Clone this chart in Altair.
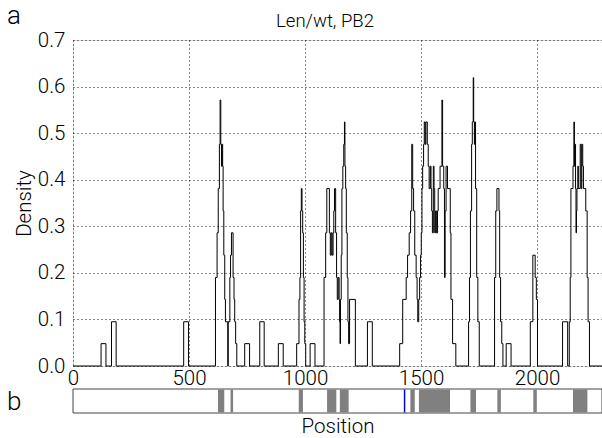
import altair as alt
import pandas as pd

# Step breakpoints of the density trace (value holds until the next position)
step_pos = [
    0, 121, 142, 166, 186, 477, 498,
    614, 621, 626, 631, 634, 637, 640, 642, 645, 647, 650, 654, 657, 667, 669,
    676, 679, 683, 690, 694, 697, 701, 706,
    740, 761, 805, 824, 885, 906,
    964, 974, 978, 981, 984, 987, 990, 993, 996, 999, 1003,
    1022, 1043,
    1082, 1089, 1094, 1105, 1109, 1113, 1117, 1121, 1124, 1127, 1132, 1136, 1139,
    1143, 1147, 1149, 1151, 1153, 1156, 1159, 1163, 1167, 1170, 1172, 1175, 1178,
    1182, 1185, 1188, 1192, 1217,
    1269, 1290,
    1408, 1421, 1436, 1442, 1449, 1455, 1460, 1464, 1468, 1473, 1479, 1483, 1486,
    1490, 1494, 1498, 1501, 1504, 1507, 1511, 1514, 1518, 1521, 1527, 1531, 1535,
    1540, 1543, 1546, 1549, 1553, 1556, 1559, 1563, 1566, 1571, 1574, 1582, 1590,
    1593, 1598, 1601, 1604, 1608, 1614, 1626, 1629, 1636, 1650,
    1705, 1709, 1713, 1718, 1721, 1725, 1727, 1730, 1732, 1735, 1740, 1745, 1751,
    1817, 1822, 1827, 1836, 1839, 1843, 1848, 1853,
    1867, 1888,
    1971, 1982, 1992, 1997, 2002,
    2110, 2132,
    2139, 2143, 2146, 2155, 2159, 2161, 2163, 2166, 2168, 2170, 2172, 2176, 2178,
    2186, 2190, 2193, 2197, 2200, 2210, 2216, 2220, 2226, 2280,
]
step_density = [
    0, 0.048, 0, 0.095, 0, 0.095, 0,
    0.19, 0.286, 0.381, 0.476, 0.571, 0.476, 0.429, 0.476, 0.429, 0.333, 0.238, 0.143, 0.095, 0, 0.095,
    0.19, 0.238, 0.286, 0.19, 0.143, 0.095, 0.048, 0,
    0.048, 0, 0.095, 0, 0.048, 0,
    0.048, 0.143, 0.19, 0.333, 0.381, 0.333, 0.286, 0.19, 0.095, 0.048, 0,
    0.048, 0,
    0.19, 0.286, 0.381, 0.286, 0.238, 0.286, 0.238, 0.286, 0.333, 0.381, 0.286, 0.19, 0.143,
    0.19, 0.143, 0.095, 0.048, 0.143, 0.238, 0.381, 0.429, 0.476, 0.524, 0.429, 0.381, 0.286,
    0.19, 0.095, 0.048, 0.143, 0,
    0.095, 0,
    0.048, 0.143, 0.19, 0.238, 0.286, 0.333, 0.476, 0.381, 0.333, 0.238, 0.19, 0.143, 0.095,
    0.143, 0.19, 0.238, 0.286, 0.381, 0.429, 0.476, 0.524, 0.476, 0.524, 0.476, 0.429, 0.381,
    0.429, 0.381, 0.333, 0.286, 0.429, 0.381, 0.286, 0.333, 0.286, 0.333, 0.381, 0.429, 0.571,
    0.429, 0.381, 0.19, 0.333, 0.429, 0.381, 0.286, 0.143, 0.048, 0,
    0.095, 0.19, 0.333, 0.476, 0.524, 0.619, 0.524, 0.476, 0.524, 0.381, 0.19, 0.095, 0,
    0.19, 0.333, 0.381, 0.333, 0.19, 0.095, 0.048, 0,
    0.048, 0,
    0.095, 0.238, 0.19, 0.143, 0,
    0.095, 0,
    0.095, 0.19, 0.381, 0.429, 0.524, 0.429, 0.476, 0.381, 0.286, 0.333, 0.381, 0.429, 0.381,
    0.476, 0.381, 0.476, 0.429, 0.381, 0.333, 0.19, 0.095, 0, 0,
]

# Panel b: highlighted regions and marker
region_start = [625, 679, 973, 1095, 1150, 1454, 1491, 1713, 1829, 1984, 2155]
region_end = [652, 690, 991, 1135, 1188, 1473, 1625, 1737, 1844, 1999, 2217]
marker_pos = [1429]

x_ticks = [0, 500, 1000, 1500, 2000]
y_ticks = [0.0, 0.1, 0.2, 0.3, 0.4, 0.5, 0.6, 0.7]
x_domain = [0, 2280]

title_text = "Len/wt, PB2"
panel_names = ["a", "b"]

FONT = "Roboto"
FS = 20.5

line_df = pd.DataFrame({"pos": step_pos, "density": step_density})
reg_df = pd.DataFrame({"pos": region_start, "end": region_end})
mark_df = pd.DataFrame({"pos": marker_pos})

xscale = alt.Scale(domain=x_domain, nice=False, zero=False)
yscale = alt.Scale(domain=[0, 0.7], nice=False)

xaxis = alt.Axis(values=x_ticks, format="d", grid=True, gridColor="black", gridDash=[1, 3],
                 gridOpacity=0.9, domain=False, ticks=False, tickSize=0,
                 labelPadding=2, labelFontSize=FS, labelFont=FONT,
                 labelFontWeight=300, labelColor="black", labelFlush=False,
                 titleFontSize=FS, titleFont=FONT, titleFontWeight=300,
                 titleColor="black", titlePadding=28)


def xenc(field):
    return alt.X(field, scale=xscale, title="Position", axis=xaxis)


line = alt.Chart(line_df).mark_line(
    interpolate="step-after", color="black", strokeWidth=1
).encode(
    x=xenc("pos:Q"),
    y=alt.Y("density:Q", scale=yscale, title="Density",
            axis=alt.Axis(values=y_ticks, format=".1f", grid=True, gridColor="black",
                          gridDash=[1, 3], gridOpacity=0.9, domain=False, ticks=False,
                          tickSize=0, labelPadding=8, labelFontSize=FS, labelFont=FONT,
                          labelFontWeight=300, labelColor="black", labelFlush=False,
                          titleFontSize=FS, titleFont=FONT, titleFontWeight=300,
                          titleColor="black", titlePadding=3)),
)

strip_frame = alt.Chart(pd.DataFrame({"pos": [x_domain[0]], "end": [x_domain[1]]})).mark_rect(
    fill="white", stroke="#444444", strokeWidth=1
).encode(
    x=xenc("pos:Q"),
    x2="end:Q",
    y=alt.value(349), y2=alt.value(373),
)

strip_regions = alt.Chart(reg_df).mark_rect(color="#808080").encode(
    x=xenc("pos:Q"),
    x2="end:Q",
    y=alt.value(349.5), y2=alt.value(372.5),
)

strip_marker = alt.Chart(mark_df).mark_rule(color="#0000ff", strokeWidth=1.5).encode(
    x=xenc("pos:Q"),
    y=alt.value(349.5), y2=alt.value(372.5),
)

panel_labels = alt.Chart(pd.DataFrame({"t": panel_names, "py": [-37, 349]})).mark_text(
    font=FONT, fontSize=26, fontWeight=300, color="black", align="left", baseline="top"
).encode(
    text="t:N",
    x=alt.value(-66),
    y=alt.Y("py:Q", scale=None),
)

title_mark = alt.Chart(pd.DataFrame({"t": [title_text]})).mark_text(
    font=FONT, fontSize=18.5, fontWeight=300, color="black", align="center",
    baseline="alphabetic"
).encode(
    text="t:N",
    x=alt.value(252),
    y=alt.value(-13),
)

chart = alt.layer(line, strip_frame, strip_regions, strip_marker, panel_labels,
                  title_mark).properties(
    width=529,
    height=326,
    padding={"left": 73, "top": 40, "right": 0, "bottom": 72},
    autosize="none",
).configure_view(stroke="black", strokeWidth=1).configure(background="white")

chart.save("out.html", embed_options={"renderer": "svg", "actions": False})
